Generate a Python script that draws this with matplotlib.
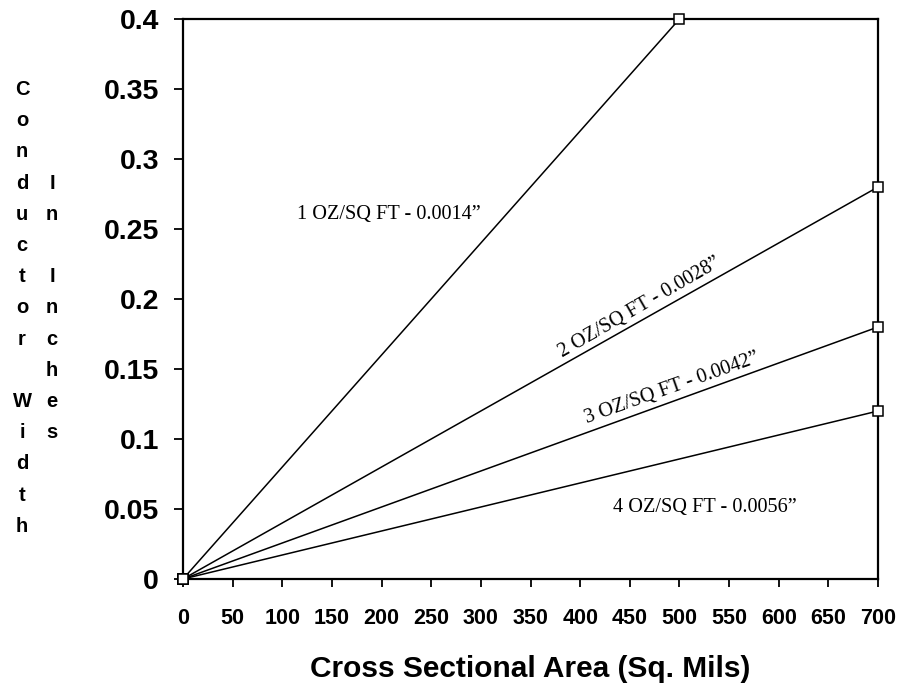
import numpy as np
import matplotlib
matplotlib.use("Agg")
import matplotlib.pyplot as plt

# data
area = [0, 500]              # cross sectional area, sq mils (1 oz line)
area_long = [0, 700]         # 2, 3, 4 oz lines
w_1oz = [0, 0.40]
w_2oz = [0, 0.28]
w_3oz = [0, 0.18]
w_4oz = [0, 0.12]

xticks = list(range(0, 701, 50))
yticks = [0, 0.05, 0.1, 0.15, 0.2, 0.25, 0.3, 0.35, 0.4]
ytick_labels = ["0", "0.05", "0.1", "0.15", "0.2", "0.25", "0.3", "0.35", "0.4"]

labels = ["1 OZ/SQ FT - 0.0014\u201d", "2 OZ/SQ FT - 0.0028\u201d",
          "3 OZ/SQ FT - 0.0042\u201d", "4 OZ/SQ FT - 0.0056\u201d"]

plt.rcParams['font.family'] = ['Liberation Sans', 'DejaVu Sans']

W, H = 901, 690
fig = plt.figure(figsize=(W / 100, H / 100), dpi=100)
# axes box: x 183..878 px, y 19..579 px
ax = fig.add_axes([183 / W, (H - 579) / H, 695 / W, 560 / H])

mk = dict(color='black', lw=1.1, marker='s', markersize=6.5,
          markerfacecolor='white', markeredgecolor='black',
          markeredgewidth=1.1, clip_on=False, zorder=3)
ax.plot(area, w_1oz, **mk)
ax.plot(area_long, w_2oz, **mk)
ax.plot(area_long, w_3oz, **mk)
ax.plot(area_long, w_4oz, **mk)

ax.set_xlim(0, 700)
ax.set_ylim(0, 0.4)
ax.set_xticks(xticks)
ax.set_xticklabels([str(v) for v in xticks], fontsize=15.5, fontweight='bold')
ax.set_yticks(yticks)
ax.set_yticklabels(ytick_labels, fontsize=20.5, fontweight='bold')
ax.tick_params(axis='both', direction='out', width=1.3, color='black')
ax.tick_params(axis='x', length=6, pad=15)
ax.tick_params(axis='y', length=6.5, pad=10.8)
for s in ax.spines.values():
    s.set_linewidth(1.6)

ax.set_xlabel("Cross Sectional Area (Sq. Mils)", fontsize=21.5, fontweight='bold')
ax.xaxis.label.set_va('baseline')
ax.xaxis.set_label_coords(0.5, (579 - 677) / 560)

# stacked vertical y-axis title
col1 = "Conductor Width"
col2 = "   In Inches"
step = 31.2
base0 = 95
for i, ch in enumerate(col1):
    if ch != ' ':
        fig.text(22 / W, (H - base0 - i * step) / H, ch, ha='center', va='baseline',
                 fontsize=14.5, fontweight='bold')
for i, ch in enumerate(col2):
    if ch != ' ':
        fig.text(52 / W, (H - base0 - i * step) / H, ch, ha='center', va='baseline',
                 fontsize=14.5, fontweight='bold')

serif = ['Liberation Serif', 'DejaVu Serif']
fs = 14.6
ax.text(207, 0.26, labels[0], ha='center', va='center', fontsize=fs, family=serif)
ax.text(460, 0.194, labels[1], ha='center', va='center', fontsize=fs, family=serif,
        rotation=30, rotation_mode='anchor')
ax.text(492.5, 0.136, labels[2], ha='center', va='center', fontsize=fs, family=serif,
        rotation=19.5, rotation_mode='anchor')
ax.text(526, 0.051, labels[3], ha='center', va='center', fontsize=fs, family=serif)

fig.savefig("out.png", dpi=100)
